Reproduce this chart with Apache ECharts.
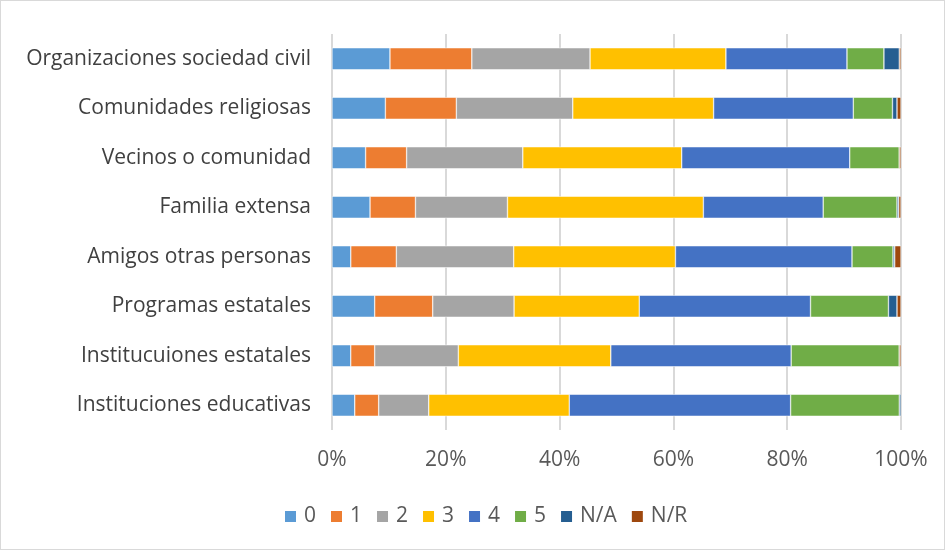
<!DOCTYPE html>
<html>
<head>
<meta charset="utf-8">
<script src="https://cdn.jsdelivr.net/npm/echarts@6/dist/echarts.min.js"></script>
<style>
html,body{margin:0;padding:0;background:#fff;}
#frame{position:absolute;left:0;top:0;width:943px;height:548px;border:1px solid #d9d9d9;}
#chart{position:absolute;left:0;top:0;width:945px;height:550px;}
</style>
</head>
<body>
<div id="frame"></div>
<div id="chart"></div>
<script>
const categories = [
  "Organizaciones sociedad civil",
  "Comunidades religiosas",
  "Vecinos o comunidad",
  "Familia extensa",
  "Amigos otras personas",
  "Programas estatales",
  "Institucuiones estatales",
  "Instituciones educativas"
];
const seriesNames = ["0","1","2","3","4","5","N/A","N/R"];
const v0  = [10.2, 9.4, 5.9, 6.7, 3.3, 7.5, 3.3, 4.0];
const v1  = [14.4, 12.5, 7.2, 8.0, 8.0, 10.2, 4.2, 4.2];
const v2  = [20.8, 20.5, 20.4, 16.2, 20.6, 14.3, 14.7, 8.8];
const v3  = [23.9, 24.8, 27.9, 34.5, 28.4, 22.0, 26.8, 24.7];
const v4  = [21.3, 24.6, 29.5, 21.1, 31.0, 30.1, 31.7, 38.9];
const v5  = [6.5, 6.9, 8.7, 13.0, 7.2, 13.7, 19.0, 19.1];
const vNA = [2.7, 0.8, 0.0, 0.3, 0.3, 1.5, 0.0, 0.3];
const vNR = [0.3, 0.7, 0.3, 0.4, 1.1, 0.7, 0.3, 0.0];
const xTicks = ["0%","20%","40%","60%","80%","100%"];
const colors = ["#5B9BD5","#ED7D31","#A5A5A5","#FFC000","#4472C4","#70AD47","#255E91","#9E480E"];

const allVals = [v0,v1,v2,v3,v4,v5,vNA,vNR];
const totals = categories.map((c,i)=>allVals.reduce((s,a)=>s+a[i],0));
const font = "'Open Sans', sans-serif";

const chart = echarts.init(document.getElementById('chart'));
chart.setOption({
  animation:false,
  color: colors,
  grid:{left:332, right:44, top:34, bottom:120, containLabel:false},
  xAxis:{
    type:'value', min:0, max:100, interval:20,
    axisLabel:{formatter:(v)=>xTicks[Math.round(v/20)], color:'#595959', fontSize:21, fontFamily:font, margin:20},
    splitLine:{show:true, lineStyle:{color:'#d9d9d9', width:2}},
    axisLine:{show:false}, axisTick:{show:false}
  },
  yAxis:{
    type:'category', data:categories, inverse:true,
    axisLabel:{color:'#404040', fontSize:21, fontFamily:font, margin:21},
    axisLine:{show:false}, axisTick:{show:false}
  },
  legend:{
    bottom:18, left:278, itemWidth:13, itemHeight:13, itemGap:13,
    icon:'rect',
    textStyle:{color:'#595959', fontSize:21, fontFamily:font, padding:[0,0,0,2]},
    data:seriesNames
  },
  series: seriesNames.map((n,k)=>({
    name:n, type:'bar', stack:'total', barWidth:22,
    itemStyle:{borderColor:'#fff', borderWidth:0.5},
    data: allVals[k].map((v,i)=>v/totals[i]*100)
  }))
});
</script>
</body>
</html>
